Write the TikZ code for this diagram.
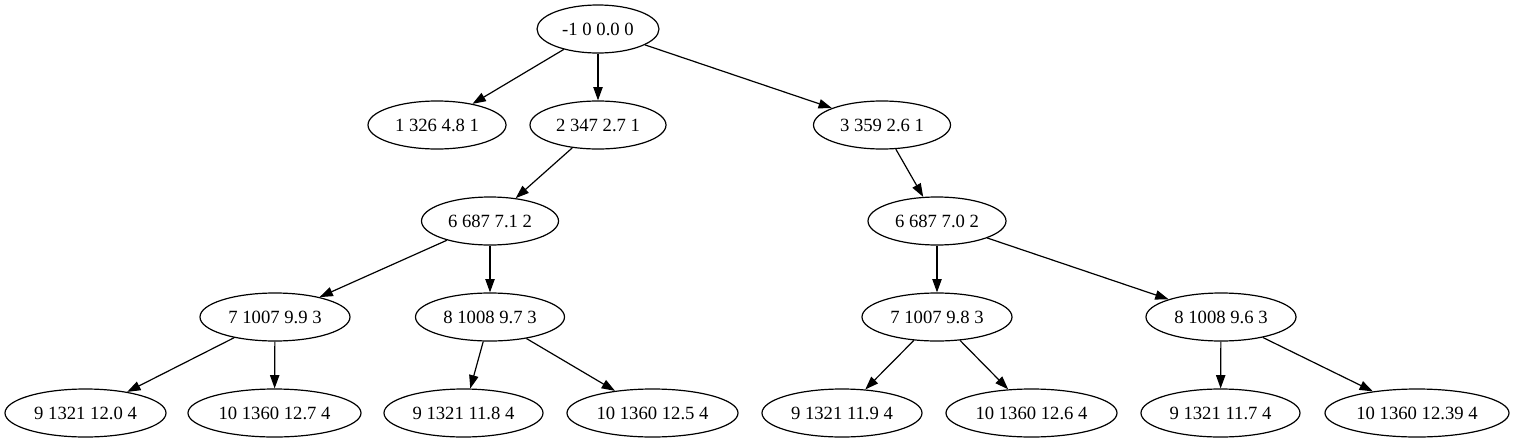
\documentclass[tikz,border=0pt]{standalone}
\usepackage{fontspec}
\setmainfont{Liberation Serif}
\usetikzlibrary{shapes.geometric,arrows.meta}
\begin{document}
\begin{tikzpicture}[x=0.75pt,y=-0.75pt,
  nd/.style={ellipse, draw, line width=0.9pt, inner sep=0pt, minimum height=36pt,
    font=\fontsize{14}{16}\selectfont},
  wd/.style={minimum width=#1*0.75pt},
  edge/.style={line width=0.9pt, -{Triangle[length=10pt,width=7pt]}}]
\useasboundingbox (0,0) rectangle (1514,443);
\node[nd,wd=122] (r) at (598,29) {-1 0 0.0 0};
\node[nd,wd=138] (a1) at (437,125) {1 326 4.8 1};
\node[nd,wd=136] (a2) at (598,125) {2 347 2.7 1};
\node[nd,wd=137] (a3) at (882,125) {3 359 2.6 1};
\node[nd,wd=137] (b1) at (490,221) {6 687 7.1 2};
\node[nd,wd=138] (b2) at (937,221) {6 687 7.0 2};
\node[nd,wd=150] (c1) at (275,317) {7 1007 9.9 3};
\node[nd,wd=149] (c2) at (490,317) {8 1008 9.7 3};
\node[nd,wd=150] (c3) at (937,317) {7 1007 9.8 3};
\node[nd,wd=150] (c4) at (1221,317) {8 1008 9.6 3};
\node[nd,wd=161] (l1) at (85.5,413) {9 1321 12.0 4};
\node[nd,wd=173] (l2) at (274.5,413) {10 1360 12.7 4};
\node[nd,wd=159] (l3) at (463.5,413) {9 1321 11.8 4};
\node[nd,wd=171] (l4) at (652.5,413) {10 1360 12.5 4};
\node[nd,wd=160] (l5) at (842,413) {9 1321 11.9 4};
\node[nd,wd=171] (l6) at (1031.5,413) {10 1360 12.6 4};
\node[nd,wd=159] (l7) at (1220.5,413) {9 1321 11.7 4};
\node[nd,wd=184] (l8) at (1417,413) {10 1360 12.39 4};
\draw[edge] (r) -- (a1);
\draw[edge] (r) -- (a2);
\draw[edge] (r) -- (a3);
\draw[edge] (a2) -- (b1);
\draw[edge] (a3) -- (b2);
\draw[edge] (b1) -- (c1);
\draw[edge] (b1) -- (c2);
\draw[edge] (b2) -- (c3);
\draw[edge] (b2) -- (c4);
\draw[edge] (c1) -- (l1);
\draw[edge] (c1) -- (l2);
\draw[edge] (c2) -- (l3);
\draw[edge] (c2) -- (l4);
\draw[edge] (c3) -- (l5);
\draw[edge] (c3) -- (l6);
\draw[edge] (c4) -- (l7);
\draw[edge] (c4) -- (l8);
\end{tikzpicture}
\end{document}
